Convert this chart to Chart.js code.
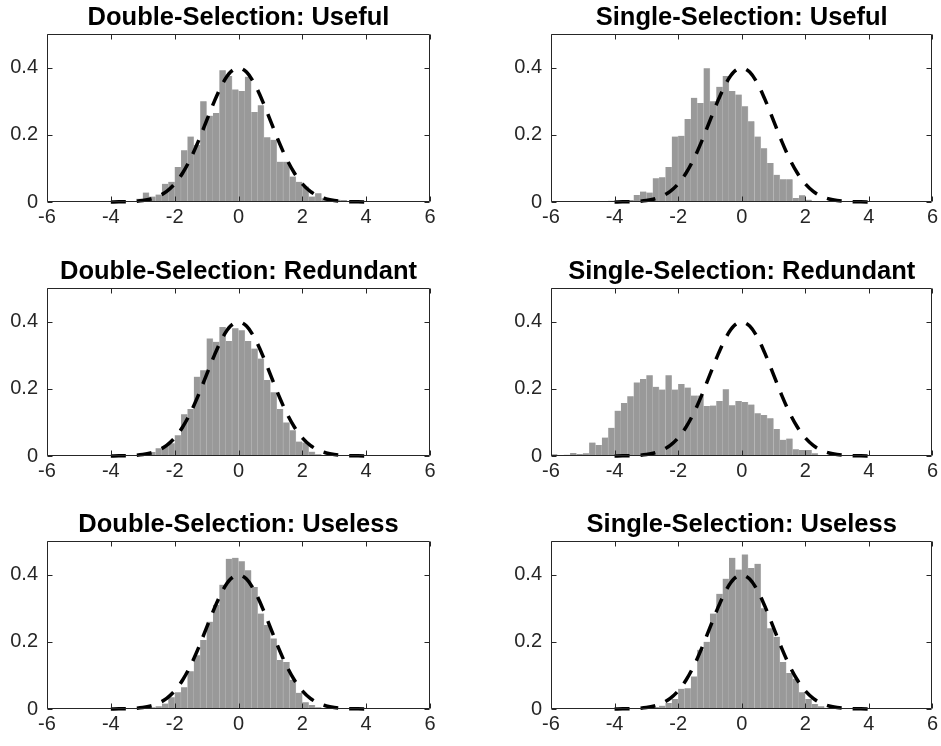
<!DOCTYPE html>
<html>
<head>
<meta charset="utf-8">
<title>Selection histograms</title>
<script src="https://cdn.jsdelivr.net/npm/chart.js@4.4.1/dist/chart.umd.min.js"></script>
<style>
  html, body { margin: 0; padding: 0; background: #fff; overflow: hidden; }
  #wrap { position: relative; width: 941px; height: 746px; }
  #wrap canvas { position: absolute; }
</style>
</head>
<body>
<div id="wrap"></div>
<script>
/* ======================
   DATA
====================== */
const xTicks = [-6, -4, -2, 0, 2, 4, 6];
const yTicks = [0, 0.2, 0.4];
const binWidth = 0.2;

// dashed reference curve (standard normal density)
const curveX = [-4, -3.75, -3.5, -3.25, -3, -2.75, -2.5, -2.25, -2, -1.75, -1.5, -1.25, -1, -0.75, -0.5, -0.25,
                0, 0.25, 0.5, 0.75, 1, 1.25, 1.5, 1.75, 2, 2.25, 2.5, 2.75, 3, 3.25, 3.5, 3.75, 4];
const curveY = [0.0001, 0.0004, 0.0009, 0.002, 0.0044, 0.0091, 0.0175, 0.0317, 0.054, 0.0863, 0.1295, 0.1826,
                0.242, 0.3011, 0.3521, 0.3867, 0.3989, 0.3867, 0.3521, 0.3011, 0.242, 0.1826, 0.1295, 0.0863,
                0.054, 0.0317, 0.0175, 0.0091, 0.0044, 0.002, 0.0009, 0.0004, 0.0001];

// histogram heights (pdf), first bin centre given separately
const doubleUsefulStart = -3.3;
const doubleUseful = [0.003, 0.010, 0.028, 0.016, 0.022, 0.054, 0.060, 0.104, 0.154, 0.195, 0.170, 0.300,
                      0.257, 0.265, 0.392, 0.375, 0.335, 0.330, 0.373, 0.268, 0.288, 0.193, 0.185, 0.120,
                      0.120, 0.076, 0.060, 0.046, 0.016, 0.026, 0.011, 0.006, 0.007, 0.006];

const singleUsefulStart = -4.1;
const singleUseful = [0.004, 0.000, 0.003, 0.006, 0.021, 0.031, 0.028, 0.071, 0.074, 0.104, 0.195, 0.197,
                      0.247, 0.310, 0.295, 0.398, 0.300, 0.343, 0.375, 0.330, 0.320, 0.285, 0.240, 0.195,
                      0.160, 0.116, 0.081, 0.068, 0.068, 0.012, 0.020, 0.007, 0.003];

const doubleRedundantStart = -3.3;
const doubleRedundant = [0.002, 0.003, 0.006, 0.012, 0.023, 0.028, 0.038, 0.062, 0.124, 0.140, 0.236, 0.255,
                         0.350, 0.340, 0.384, 0.342, 0.380, 0.374, 0.342, 0.320, 0.290, 0.226, 0.190, 0.140,
                         0.100, 0.077, 0.043, 0.040, 0.013, 0.005, 0.003];

const singleRedundantStart = -5.9;
const singleRedundant = [0.005, 0.002, 0.004, 0.009, 0.006, 0.008, 0.040, 0.033, 0.055, 0.084, 0.135, 0.158,
                         0.178, 0.219, 0.229, 0.240, 0.206, 0.198, 0.240, 0.198, 0.214, 0.204, 0.180, 0.180,
                         0.149, 0.150, 0.164, 0.199, 0.151, 0.164, 0.161, 0.153, 0.127, 0.122, 0.112, 0.080,
                         0.048, 0.052, 0.020, 0.018, 0.018, 0.008, 0.003];

const doubleUselessStart = -3.1;
const doubleUseless = [0.002, 0.003, 0.005, 0.008, 0.016, 0.035, 0.050, 0.065, 0.112, 0.160, 0.205, 0.260,
                       0.310, 0.370, 0.447, 0.450, 0.440, 0.413, 0.363, 0.284, 0.250, 0.210, 0.146, 0.140,
                       0.087, 0.048, 0.020, 0.012, 0.005, 0.002];

const singleUselessStart = -2.9;
const singleUseless = [0.004, 0.006, 0.010, 0.018, 0.030, 0.060, 0.062, 0.097, 0.176, 0.200, 0.284, 0.343,
                       0.388, 0.450, 0.415, 0.460, 0.420, 0.432, 0.300, 0.240, 0.215, 0.140, 0.107, 0.090,
                       0.050, 0.030, 0.015, 0.008, 0.004, 0.002];

/* ======================
   LAYOUT
====================== */
const FONT = "'Liberation Sans', Arial, Helvetica, sans-serif";
const TITLE_SIZE = 25.5;
const TITLE_GAP = 1;
const TICK_SIZE = 20;
const TICK_LEN = 5;
const AXIS_COLOR = "#262626";

const panels = [
    { title: "Double-Selection: Useful",    start: doubleUsefulStart,    heights: doubleUseful,    col: 0, row: 0 },
    { title: "Single-Selection: Useful",    start: singleUsefulStart,    heights: singleUseful,    col: 1, row: 0 },
    { title: "Double-Selection: Redundant", start: doubleRedundantStart, heights: doubleRedundant, col: 0, row: 1 },
    { title: "Single-Selection: Redundant", start: singleRedundantStart, heights: singleRedundant, col: 1, row: 1 },
    { title: "Double-Selection: Useless",   start: doubleUselessStart,   heights: doubleUseless,   col: 0, row: 2 },
    { title: "Single-Selection: Useless",   start: singleUselessStart,   heights: singleUseless,   col: 1, row: 2 }
];

// canvas boxes: [left, width, yAxisWidth, rightPad]
const cols = [[0, 470, 47, 40], [470, 471, 81, 8]];
const rowTops = [0, 254, 507];
const CANVAS_H = 239;
const AREA_TOP = 34;
const XAXIS_H = 37;

/* ======================
   BOX + INWARD TICKS
====================== */
const boxTicks = {
    id: "boxTicks",
    afterDatasetsDraw(chart) {
        const { ctx, chartArea: a, scales } = chart;
        const l = Math.round(a.left) + 0.5, r = Math.round(a.right) - 0.5;
        const t = Math.round(a.top) + 0.5, b = Math.round(a.bottom) - 0.5;
        ctx.save();
        ctx.strokeStyle = AXIS_COLOR;
        ctx.lineWidth = 1;
        ctx.beginPath();
        xTicks.forEach(v => {
            const px = Math.round(scales.x.getPixelForValue(v)) + 0.5;
            ctx.moveTo(px, b); ctx.lineTo(px, b - TICK_LEN);
            ctx.moveTo(px, t); ctx.lineTo(px, t + TICK_LEN);
        });
        yTicks.forEach(v => {
            const py = Math.round(scales.y.getPixelForValue(v)) + 0.5;
            ctx.moveTo(l, py); ctx.lineTo(l + TICK_LEN, py);
            ctx.moveTo(r, py); ctx.lineTo(r - TICK_LEN, py);
        });
        ctx.rect(l, t, r - l, b - t);
        ctx.stroke();
        ctx.restore();
    }
};

/* ======================
   CHARTS
====================== */
const wrap = document.getElementById("wrap");

panels.forEach(p => {
    const [left, width, yw, rpad] = cols[p.col];
    const canvas = document.createElement("canvas");
    canvas.width = width;
    canvas.height = CANVAS_H;
    canvas.style.left = left + "px";
    canvas.style.top = rowTops[p.row] + "px";
    canvas.style.width = width + "px";
    canvas.style.height = CANVAS_H + "px";
    wrap.appendChild(canvas);

    const bars = p.heights.map((h, i) => ({ x: +(p.start + i * binWidth).toFixed(2), y: h }));
    const curve = curveX.map((x, i) => ({ x: x, y: curveY[i] }));
    const titleBlock = TITLE_SIZE * 1.2 + TITLE_GAP;

    new Chart(canvas, {
        type: "bar",
        data: {
            datasets: [
                {
                    type: "line",
                    data: curve,
                    borderColor: "#000",
                    borderWidth: 3.5,
                    borderDash: [15, 11],
                    pointRadius: 0,
                    cubicInterpolationMode: "monotone",
                    fill: false,
                    clip: false,
                    order: 1
                },
                {
                    type: "bar",
                    data: bars,
                    backgroundColor: "#999999",
                    borderColor: "#c2c2c2",
                    borderWidth: { left: 0, right: 0.6, top: 0, bottom: 0 },
                    borderSkipped: false,
                    barPercentage: 1,
                    categoryPercentage: 1,
                    order: 2
                }
            ]
        },
        options: {
            responsive: false,
            animation: false,
            devicePixelRatio: 1,
            layout: { padding: { top: AREA_TOP - titleBlock, right: rpad, left: 0, bottom: 0 } },
            plugins: {
                legend: { display: false },
                tooltip: { enabled: false },
                title: {
                    display: true,
                    text: p.title,
                    fullSize: false,
                    color: "#000",
                    font: { family: FONT, size: TITLE_SIZE, weight: "bold", lineHeight: 1.2 },
                    padding: { top: 0, bottom: TITLE_GAP }
                }
            },
            scales: {
                x: {
                    type: "linear",
                    min: -6,
                    max: 6,
                    offset: false,
                    grid: { display: false, drawTicks: false, offset: false },
                    border: { display: false },
                    afterBuildTicks: s => { s.ticks = xTicks.map(v => ({ value: v })); },
                    afterFit: s => { s.height = XAXIS_H; },
                    ticks: {
                        padding: 3,
                        maxRotation: 0,
                        autoSkip: false,
                        color: AXIS_COLOR,
                        font: { family: FONT, size: TICK_SIZE },
                        callback: v => String(v)
                    }
                },
                y: {
                    min: 0,
                    max: 0.5,
                    grid: { display: false, drawTicks: false },
                    border: { display: false },
                    afterBuildTicks: s => { s.ticks = yTicks.map(v => ({ value: v })); },
                    afterFit: s => { s.width = yw; },
                    ticks: {
                        padding: 9,
                        color: AXIS_COLOR,
                        font: { family: FONT, size: TICK_SIZE },
                        callback: v => String(v)
                    }
                }
            }
        },
        plugins: [boxTicks]
    });
});
</script>
</body>
</html>
